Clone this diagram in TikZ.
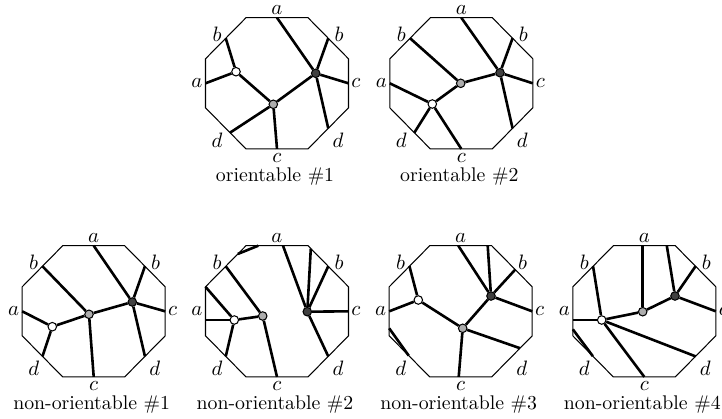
\documentclass[tikz,border=0pt]{standalone}
\begin{document}
\tikzset{
  frame/.style={line width=0.5pt, line join=miter},
  edge/.style={line width=1.25pt},
  vtx/.style={circle, draw, line width=0.5pt, minimum size=4.1pt, inner sep=0pt},
  vw/.style={vtx, fill=white},
  vg/.style={vtx, fill=black!32},
  vk/.style={vtx, fill=black!75},
  lab/.style={inner sep=0pt},
  captext/.style={inner sep=0pt, font=\fontsize{9.5}{11}\selectfont}
}
\newcommand{\octframe}[2]{%
  \draw[frame] (-31,-65.6) -- (31,-65.6) -- (71.5,-24.5) -- (71.5,24.5) -- (31,65.6) -- (-31,65.6) -- (-71.5,24.5) -- (-71.5,-24.5) -- cycle;
  \coordinate (#1T) at (0,-65.6);
  \coordinate (#1UR) at (51.25,-45.05);
  \coordinate (#1R) at (71.5,0);
  \coordinate (#1LR) at (51.25,45.05);
  \coordinate (#1B) at (0,65.6);
  \coordinate (#1LL) at (-51.25,45.05);
  \coordinate (#1L) at (-71.5,0);
  \coordinate (#1UL) at (-51.25,-45.05);
  \node[lab] (#1la) at (0,-73) {$a$};
  \node[lab] (#1lb) at (-60,-49) {$b$};
  \node[lab] (#1lbb) at (62,-49) {$b$};
  \node[lab] (#1laa) at (-80,0) {$a$};
  \node[lab] (#1lc) at (79,0) {$c$};
  \node[lab] (#1ld) at (-60,57) {$d$};
  \node[lab] (#1ldd) at (61,57) {$d$};
  \node[lab] (#1lcc) at (0,75) {$c$};
  \node[captext] (#1cap) at (-2,93) {#2};
}
\begin{tikzpicture}[x=0.48pt, y=-0.48pt]
\clip (0,0) rectangle (722,418);
% orientable #1
\begin{scope}[shift={(277,83.3)}]
  \octframe{Oa}{orientable \#1}
  \coordinate (OaLLp) at (-47,49.4);
  \node[vw] (Oaw) at (-41,-11.6) {};
  \node[vg] (Oag) at (-3.7,21) {};
  \node[vk] (Oak) at (38.7,-10) {};
  \draw[edge] (Oaw) -- (OaUL);
  \draw[edge] (Oaw) -- (OaL);
  \draw[edge] (Oaw) -- (Oag);
  \draw[edge] (Oag) -- (OaLLp);
  \draw[edge] (Oag) -- (OaB);
  \draw[edge] (Oag) -- (Oak);
  \draw[edge] (Oak) -- (OaT);
  \draw[edge] (Oak) -- (OaUR);
  \draw[edge] (Oak) -- (OaR);
  \draw[edge] (Oak) -- (OaLR);
\end{scope}
% orientable #2
\begin{scope}[shift={(461.3,83.3)}]
  \octframe{Ob}{orientable \#2}
  \coordinate (ObLLp) at (-47,49.4);
  \node[vw] (Obw) at (-29,20.7) {};
  \node[vg] (Obg) at (-0.6,0) {};
  \node[vk] (Obk) at (38.7,-10.6) {};
  \draw[edge] (Obg) -- (ObUL);
  \draw[edge] (Obg) -- (Obw);
  \draw[edge] (Obg) -- (Obk);
  \draw[edge] (Obw) -- (ObL);
  \draw[edge] (Obw) -- (ObLLp);
  \draw[edge] (Obw) -- (ObB);
  \draw[edge] (Obk) -- (ObT);
  \draw[edge] (Obk) -- (ObUR);
  \draw[edge] (Obk) -- (ObR);
  \draw[edge] (Obk) -- (ObLR);
\end{scope}
% non-orientable #1
\begin{scope}[shift={(93.7,311.3)}]
  \octframe{Na}{non-orientable \#1}
  \node[vw] (Naw) at (-41.4,15.4) {};
  \node[vg] (Nag) at (-4.7,3) {};
  \node[vk] (Nak) at (38.6,-9.3) {};
  \draw[edge] (Nag) -- (NaUL);
  \draw[edge] (Nag) -- (Naw);
  \draw[edge] (Nag) -- (NaB);
  \draw[edge] (Nag) -- (Nak);
  \draw[edge] (Naw) -- (NaL);
  \draw[edge] (Naw) -- (NaLL);
  \draw[edge] (Nak) -- (NaT);
  \draw[edge] (Nak) -- (NaUR);
  \draw[edge] (Nak) -- (NaR);
  \draw[edge] (Nak) -- (NaLR);
\end{scope}
% non-orientable #2
\begin{scope}[shift={(277,311.3)}]
  \octframe{Nb}{non-orientable \#2}
  \coordinate (NbC1) at (-71.5,-24.5);
  \coordinate (NbLp) at (-71.5,8.7);
  \coordinate (NbTp) at (6,-65.6);
  \coordinate (NbTR) at (33.8,-62.7);
  \coordinate (NbS1) at (-39.1,-57.4);
  \coordinate (NbS2) at (-18.7,-65.6);
  \node[vw] (Nbw) at (-42.7,8.7) {};
  \node[vg] (Nbg) at (-14.3,4.7) {};
  \node[vk] (Nbk) at (30.3,0.4) {};
  \draw[edge] (NbS1) -- (NbS2);
  \draw[edge] (Nbw) -- (NbC1);
  \draw[edge] (Nbw) -- (NbLp);
  \draw[edge] (Nbw) -- (NbLL);
  \draw[edge] (Nbw) -- (Nbg);
  \draw[edge] (Nbg) -- (NbUL);
  \draw[edge] (Nbg) -- (NbB);
  \draw[edge] (Nbk) -- (NbTp);
  \draw[edge] (Nbk) -- (NbTR);
  \draw[edge] (Nbk) -- (NbUR);
  \draw[edge] (Nbk) -- (NbR);
  \draw[edge] (Nbk) -- (NbLR);
\end{scope}
% non-orientable #3
\begin{scope}[shift={(460.7,311.3)}]
  \octframe{Nc}{non-orientable \#3}
  \coordinate (NcBp) at (-2,65.6);
  \coordinate (NcLRp) at (59.3,36.9);
  \coordinate (NcTp) at (-2.4,-65.6);
  \coordinate (NcTR) at (27,-65.6);
  \coordinate (NcURp) at (54.5,-41.7);
  \coordinate (NcS1) at (-71.5,17);
  \coordinate (NcS2) at (-52,44.3);
  \node[vw] (Ncw) at (-42.4,-11.3) {};
  \node[vg] (Ncg) at (2,17) {};
  \node[vk] (Nck) at (30.3,-15.3) {};
  \draw[edge] (NcS1) -- (NcS2);
  \draw[edge] (Ncw) -- (NcUL);
  \draw[edge] (Ncw) -- (NcL);
  \draw[edge] (Ncw) -- (Ncg);
  \draw[edge] (Ncg) -- (NcBp);
  \draw[edge] (Ncg) -- (NcLRp);
  \draw[edge] (Ncg) -- (Nck);
  \draw[edge] (Nck) -- (NcTp);
  \draw[edge] (Nck) -- (NcTR);
  \draw[edge] (Nck) -- (NcURp);
  \draw[edge] (Nck) -- (NcR);
\end{scope}
% non-orientable #4
\begin{scope}[shift={(644.3,311.3)}]
  \octframe{Nd}{non-orientable \#4}
  \coordinate (NdLp) at (-71.5,8.7);
  \coordinate (NdTp) at (-1.6,-65.6);
  \coordinate (NdTR) at (22.5,-65.6);
  \coordinate (NdS1) at (-71.5,18);
  \coordinate (NdS2) at (-51.5,44.8);
  \node[vw] (Ndw) at (-42.6,8.7) {};
  \node[vg] (Ndg) at (-1.6,0.4) {};
  \node[vk] (Ndk) at (30.7,-15.3) {};
  \draw[edge] (NdS1) -- (NdS2);
  \draw[edge] (Ndw) -- (NdUL);
  \draw[edge] (Ndw) -- (NdLp);
  \draw[edge] (Ndw) -- (NdB);
  \draw[edge] (Ndw) -- (NdLR);
  \draw[edge] (Ndw) -- (Ndg);
  \draw[edge] (Ndg) -- (NdTp);
  \draw[edge] (Ndg) -- (Ndk);
  \draw[edge] (Ndk) -- (NdTR);
  \draw[edge] (Ndk) -- (NdUR);
  \draw[edge] (Ndk) -- (NdR);
\end{scope}
\end{tikzpicture}
\end{document}
